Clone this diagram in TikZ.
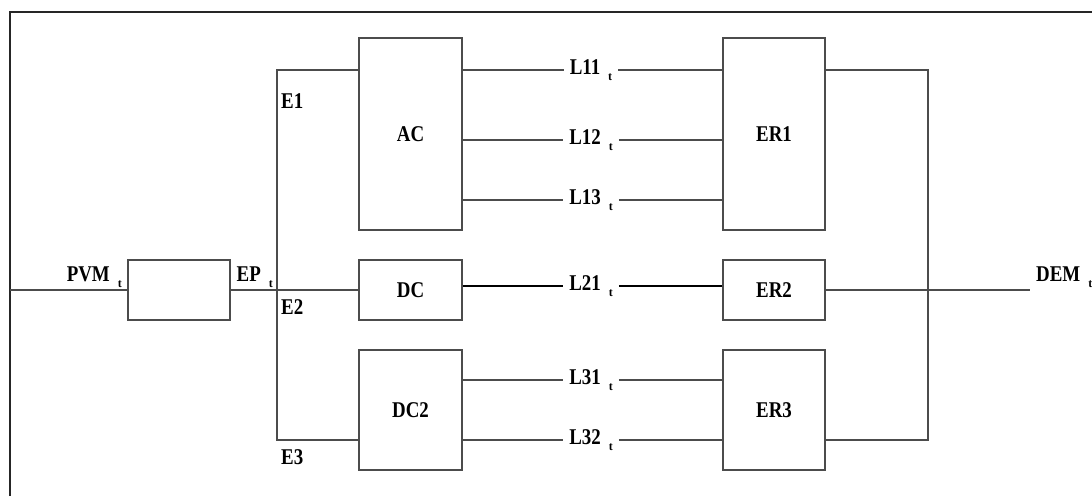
\documentclass[tikz,border=0pt]{standalone}
\usepackage{fontspec}
\setmainfont{Liberation Serif}
\newcommand{\subt}{\hspace{8pt}\raisebox{-6pt}{\fontsize{12}{12}\selectfont\bfseries t}}
\newcommand{\tx}[1]{\scalebox{1.05}[1.25]{#1}}
\begin{document}
\begin{tikzpicture}[x=1pt,y=-1pt,
  wire/.style={draw=black!70, line width=1.3pt},
  boxst/.style={draw=black!70, line width=1.4pt, inner sep=0pt, font=\bfseries\fontsize{18}{18}\selectfont},
  lbl/.style={inner sep=2pt, font=\bfseries\fontsize{18}{18}\selectfont},
  llbl/.style={lbl, inner xsep=6pt, inner ysep=2pt}]
\useasboundingbox (0,0) rectangle (1092,496);
\fill[white] (0,0) rectangle (1092,496);
% frame
\draw[line width=2pt, black!85] (10,496) -- (10,12) -- (1092,12);
% boxes
\node[boxst, minimum width=102pt, minimum height=60pt] (pv) at (179,290) {};
\node[boxst, minimum width=103pt, minimum height=192pt] (ac) at (410.5,134) {\tx{AC}};
\node[boxst, minimum width=103pt, minimum height=60pt] (dc) at (410.5,290) {\tx{DC}};
\node[boxst, minimum width=103pt, minimum height=120pt] (dc2) at (410.5,410) {\tx{DC2}};
\node[boxst, minimum width=102pt, minimum height=192pt] (er1) at (774,134) {\tx{ER1}};
\node[boxst, minimum width=102pt, minimum height=60pt] (er2) at (774,290) {\tx{ER2}};
\node[boxst, minimum width=102pt, minimum height=120pt] (er3) at (774,410) {\tx{ER3}};
% coordinates
\coordinate (in) at (10,290);
\coordinate (b1) at (277,70);
\coordinate (b3) at (277,440);
\coordinate (r1) at (928,70);
\coordinate (r3) at (928,440);
\coordinate (out) at (1030,290);
% line labels
\node[llbl] (l11) at (591,70) {\tx{L11}\subt};
\node[llbl] (l12) at (591,140) {\tx{L12}\subt};
\node[llbl] (l13) at (591,200) {\tx{L13}\subt};
\node[llbl] (l21) at (591,286) {\tx{L21}\subt};
\node[llbl] (l31) at (591,380) {\tx{L31}\subt};
\node[llbl] (l32) at (591,440) {\tx{L32}\subt};
% other labels
\node[lbl, anchor=south east] (pvm) at (124,290) {\tx{PVM}\subt};
\node[lbl, anchor=south east] (ep) at (275,290) {\tx{EP}\subt};
\node[lbl, anchor=west] (e1) at (279,101) {\tx{E1}};
\node[lbl, anchor=west] (e2) at (279,307) {\tx{E2}};
\node[lbl, anchor=west] (e3) at (279,457) {\tx{E3}};
\node[lbl, anchor=south west] (dem) at (1034,290) {\tx{DEM}\subt};
% connectors
\draw[wire] (in) -- (pv.west);
\draw[wire] (pv.east) -- (dc.west);
\draw[wire] (ac.west |- b1) -- (b1) -- (b3) -- (dc2.west |- b3);
\draw[wire] (ac.east |- l11) -- (l11) -- (er1.west |- l11);
\draw[wire] (ac.east |- l12) -- (l12) -- (er1.west |- l12);
\draw[wire] (ac.east |- l13) -- (l13) -- (er1.west |- l13);
\draw[line width=1.8pt, black] (dc.east |- l21) -- (l21) -- (er2.west |- l21);
\draw[wire] (dc2.east |- l31) -- (l31) -- (er3.west |- l31);
\draw[wire] (dc2.east |- l32) -- (l32) -- (er3.west |- l32);
\draw[wire] (er1.east |- r1) -- (r1) -- (r3) -- (er3.east |- r3);
\draw[wire] (er2.east) -- (out);
\end{tikzpicture}
\end{document}
